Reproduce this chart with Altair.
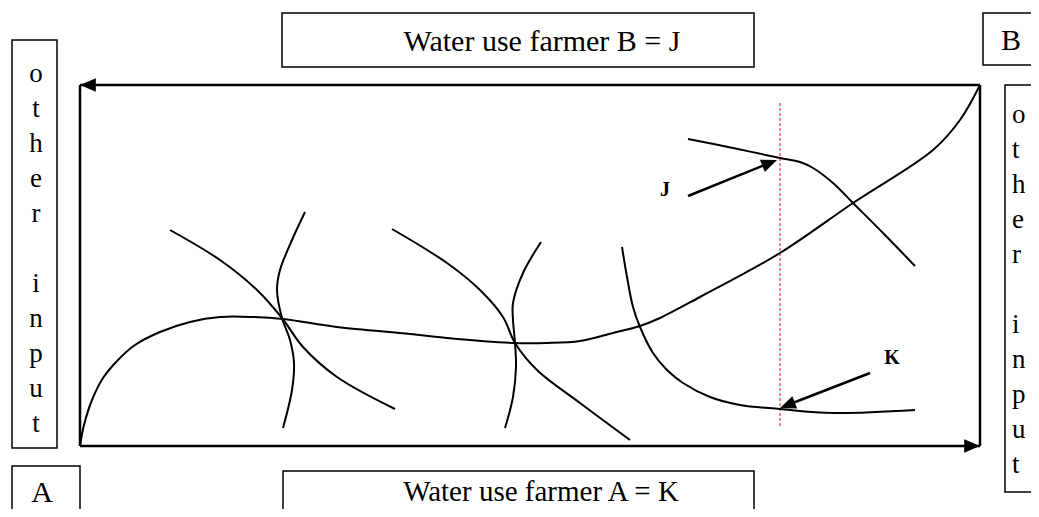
import altair as alt
import pandas as pd

# ---- curves (reference pixel coordinates) ----
contract_x = [80, 84, 92, 103, 118, 135, 160, 190, 220, 253, 283, 337, 410, 447, 513, 547, 580, 613, 640, 660, 700, 780, 853, 933, 960, 980]
contract_y = [446, 425, 400, 378, 360, 345, 332, 322, 317, 317, 319, 327, 334, 338, 343, 343, 341, 333, 326, 318, 297, 253, 203, 150, 120, 85]

a1_x = [170, 220, 257, 282, 303, 337, 395]
a1_y = [230, 260, 290, 318, 347, 377, 409]
b1_x = [305, 292, 280, 277, 282, 290, 294, 292, 283]
b1_y = [212, 240, 270, 290, 318, 340, 363, 390, 428]

a2_x = [392, 447, 480, 503, 515, 537, 580, 630]
a2_y = [229, 263, 290, 317, 343, 370, 403, 440]
b2_x = [541, 523, 513, 513, 515, 516, 513, 505]
b2_y = [242, 273, 303, 320, 343, 367, 397, 428]

a3_x = [622, 627, 633, 640, 653, 667, 683, 710, 740, 780, 833, 915]
a3_y = [247, 277, 307, 327, 353, 370, 383, 397, 405, 409, 413, 410]
b3_x = [688, 733, 780, 800, 813, 833, 853, 883, 915]
b3_y = [139, 148, 158, 162, 168, 183, 203, 233, 266]

curves = {"contract": (contract_x, contract_y), "a1": (a1_x, a1_y), "b1": (b1_x, b1_y),
          "a2": (a2_x, a2_y), "b2": (b2_x, b2_y), "a3": (a3_x, a3_y), "b3": (b3_x, b3_y)}

# ---- labels ----
title_top = "Water use farmer B = J"
title_bottom = "Water use farmer A = K"
side_word1 = "o\nt\nh\ne\nr"
side_word2 = "i\nn\np\nu\nt"
label_a = "A"
label_b = "B"
label_j = "J"
label_k = "K"

rows = []
for name, (xs_, ys_) in curves.items():
    for i, (x, y) in enumerate(zip(xs_, ys_)):
        rows.append({"curve": name, "i": i, "x": x, "y": y})
curve_df = pd.DataFrame(rows)

xs = alt.Scale(domain=[8, 1031])
ys = alt.Scale(domain=[8, 509], reverse=True)
X = lambda f: alt.X(f, type="quantitative", scale=xs, axis=None)
Y = lambda f: alt.Y(f, type="quantitative", scale=ys, axis=None)

lines = alt.Chart(curve_df).mark_line(color="black", strokeWidth=2, interpolate="catmull-rom", clip=False).encode(
    x=X("x"), y=Y("y"), detail="curve:N", order="i:Q")

boxes_df = pd.DataFrame({
    "x": [12, 12, 282, 283, 983, 1005],
    "x2": [57, 80, 754, 754, 1060, 1060],
    "y": [40, 466, 13, 471, 13, 85],
    "y2": [448, 540, 67, 540, 65, 492],
})
boxes = alt.Chart(boxes_df).mark_rect(fill="white", fillOpacity=0, stroke="black", strokeWidth=1.5, clip=False).encode(
    x=X("x"), x2="x2:Q", y=Y("y"), y2="y2:Q")

frame_df = pd.DataFrame({
    "x": [80, 80, 980, 80, 688, 870],
    "x2": [980, 80, 980, 980, 772, 785],
    "y": [85, 85, 85, 446, 196, 373],
    "y2": [85, 446, 446, 446, 162, 406],
})
frame = alt.Chart(frame_df).mark_rule(color="black", strokeWidth=2.5, clip=False).encode(
    x=X("x"), x2="x2:Q", y=Y("y"), y2="y2:Q")

heads_df = pd.DataFrame({
    "x": [80, 980, 777, 780],
    "y": [85, 446, 160, 408],
    "angle": [180, 0, 338, 159],
})
heads = alt.Chart(heads_df).mark_point(
    shape="M0,0 L-1,-0.42 L-1,0.42 Z", filled=True, color="black", opacity=1, size=1000, clip=False).encode(
    x=X("x"), y=Y("y"), angle=alt.Angle("angle:Q", scale=None))

red_df = pd.DataFrame({"x": [780], "y": [103], "y2": [428]})
red = alt.Chart(red_df).mark_rule(color="#e01010", strokeWidth=1, strokeDash=[3, 2]).encode(
    x=X("x"), y=Y("y"), y2="y2:Q")

titles_df = pd.DataFrame({"x": [542, 1011, 42], "y": [42, 41, 493],
                          "t": [title_top, label_b, label_a]})
titles = alt.Chart(titles_df).mark_text(font="Liberation Serif", fontSize=30, align="center", baseline="middle", clip=False).encode(
    x=X("x"), y=Y("y"), text="t:N")

bottom_df = pd.DataFrame({"x": [541], "y": [492], "t": [title_bottom]})
bottom_title = alt.Chart(bottom_df).mark_text(font="Liberation Serif", fontSize=29, align="center", baseline="middle").encode(
    x=X("x"), y=Y("y"), text="t:N")

jk_df = pd.DataFrame({"x": [665, 892], "y": [190, 358], "t": [label_j, label_k]})
jk = alt.Chart(jk_df).mark_text(font="Liberation Serif", fontSize=20, fontWeight="bold", align="center", baseline="middle").encode(
    x=X("x"), y=Y("y"), text="t:N")

side_df = pd.DataFrame({
    "x": [36, 36, 1012, 1012],
    "y": [74, 284, 115, 325],
    "t": [side_word1, side_word2, side_word1, side_word2],
    "side": ["l", "l", "r", "r"],
})
side_left = alt.Chart(side_df[side_df.side == "l"]).mark_text(
    font="Liberation Serif", fontSize=27, align="center", baseline="middle", lineBreak="\n", lineHeight=35
).encode(x=X("x"), y=Y("y"), text="t:N")
side_right = alt.Chart(side_df[side_df.side == "r"]).mark_text(
    font="Liberation Serif", fontSize=27, align="left", baseline="middle", lineBreak="\n", lineHeight=35
).encode(x=X("x"), y=Y("y"), text="t:N")

chart = alt.layer(boxes, frame, red, lines, heads, titles, bottom_title, jk, side_left, side_right).properties(
    width=1023, height=501, autosize=alt.AutoSizeParams(type="none"), padding=0, background="white"
).configure_view(stroke=None)

chart.save("out.html", embed_options={"renderer": "svg", "actions": False})
